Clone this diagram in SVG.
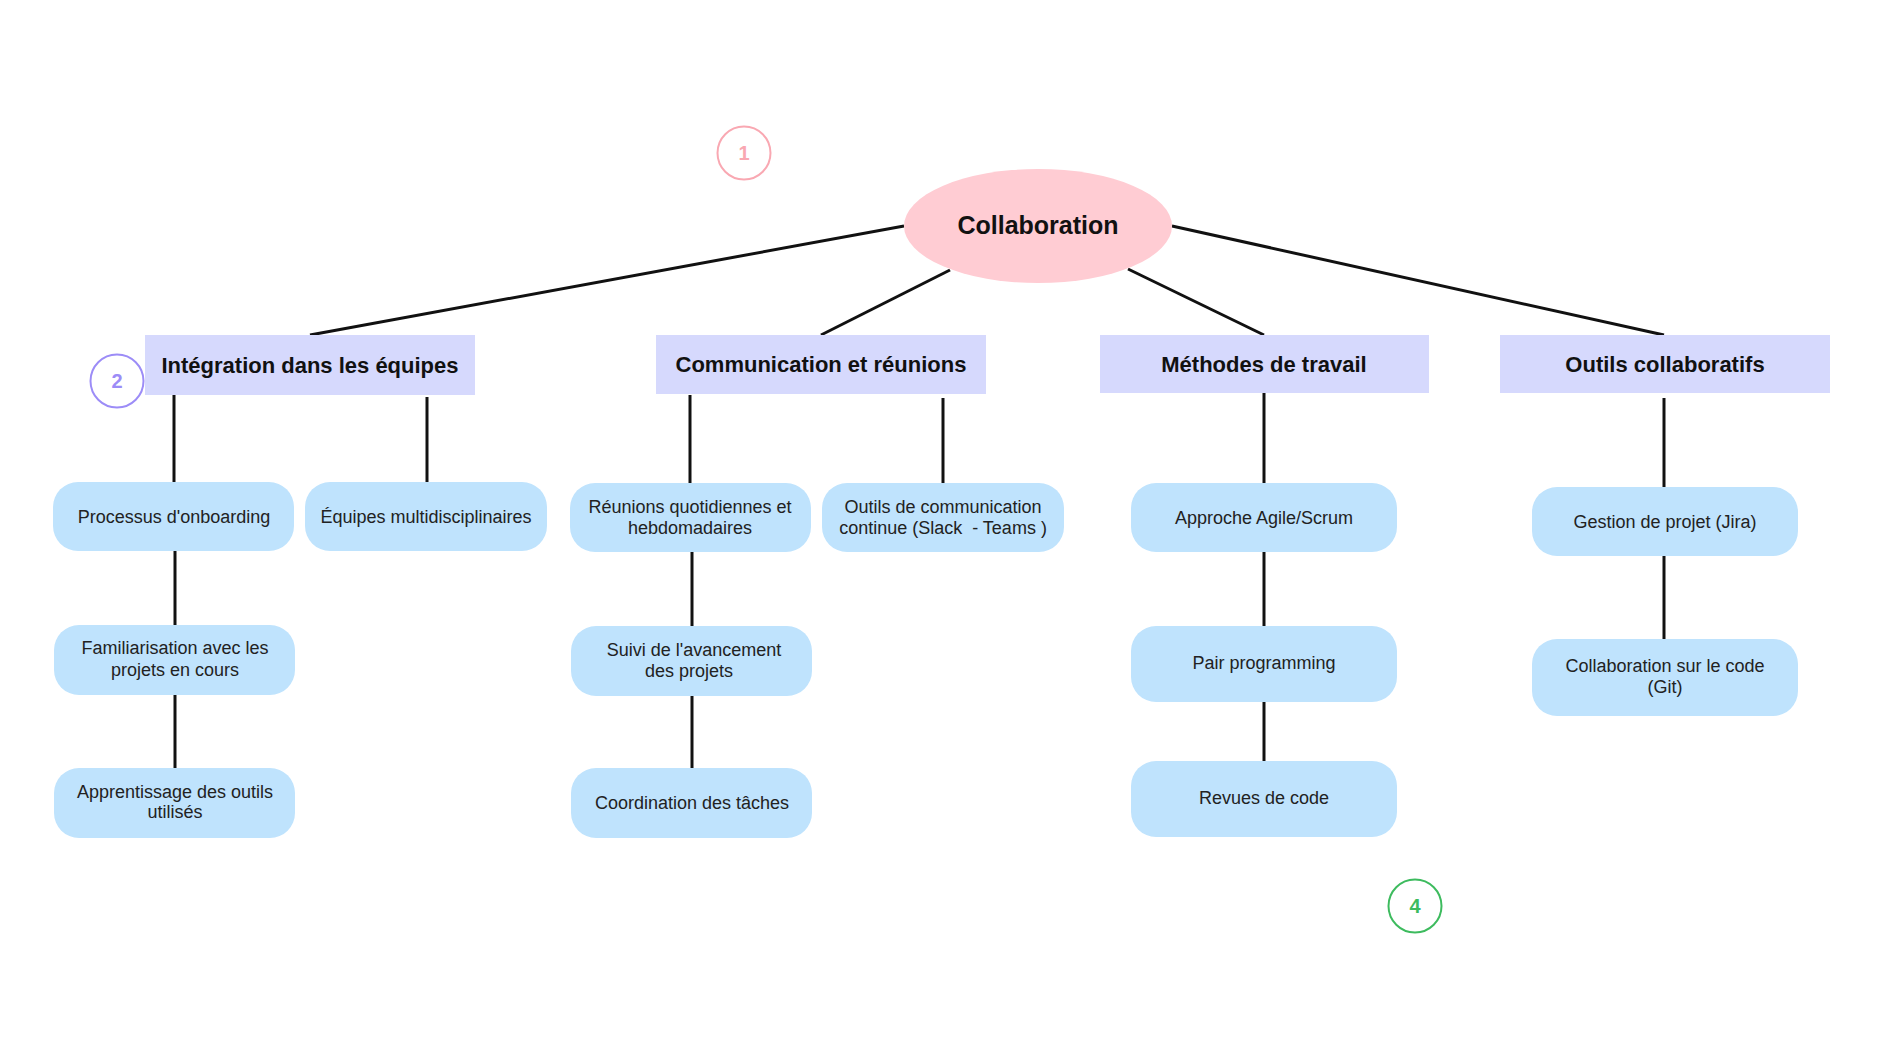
<svg xmlns="http://www.w3.org/2000/svg" width="1884" height="1060" viewBox="0 0 1884 1060">
  <style>
    .root { fill: #ffccd3; }
    .head { fill: #d6d9fd; }
    .leaf { fill: #bfe3fd; }
    .edge { stroke: #111; stroke-width: 3; stroke-linecap: butt; fill: none; }
    .t-root { font-family: "Liberation Sans", Arial, sans-serif; font-size: 25px; font-weight: bold; fill: #111; text-anchor: middle; }
    .t-head { font-family: "Liberation Sans", Arial, sans-serif; font-size: 22px; font-weight: bold; fill: #111; text-anchor: middle; }
    .t-leaf { font-family: "Liberation Sans", Arial, sans-serif; font-size: 18px; fill: #222; text-anchor: middle; }
    .badge { fill: none; stroke-width: 2; }
    .t-badge { font-family: "Liberation Sans", Arial, sans-serif; font-size: 20px; font-weight: bold; text-anchor: middle; }
  </style>
  <rect width="1884" height="1060" fill="#ffffff"/>

  <!-- connectors -->
  <g id="connectors">
    <line class="edge" x1="904" y1="226" x2="310" y2="335"/>
    <line class="edge" x1="950" y1="270" x2="821" y2="335"/>
    <line class="edge" x1="1128" y1="269" x2="1264" y2="335"/>
    <line class="edge" x1="1172" y1="226" x2="1664" y2="335"/>

    <line class="edge" x1="174" y1="395" x2="174" y2="482"/>
    <line class="edge" x1="427" y1="397" x2="427" y2="482"/>
    <line class="edge" x1="175" y1="551" x2="175" y2="625"/>
    <line class="edge" x1="175" y1="695" x2="175" y2="768"/>

    <line class="edge" x1="690" y1="395" x2="690" y2="483"/>
    <line class="edge" x1="943" y1="398" x2="943" y2="483"/>
    <line class="edge" x1="692" y1="552" x2="692" y2="626"/>
    <line class="edge" x1="692" y1="696" x2="692" y2="768"/>

    <line class="edge" x1="1264" y1="393" x2="1264" y2="483"/>
    <line class="edge" x1="1264" y1="552" x2="1264" y2="626"/>
    <line class="edge" x1="1264" y1="702" x2="1264" y2="761"/>

    <line class="edge" x1="1664" y1="398" x2="1664" y2="487"/>
    <line class="edge" x1="1664" y1="556" x2="1664" y2="639"/>
  </g>

  <!-- root -->
  <g id="collaboration">
    <ellipse class="root" cx="1038" cy="226" rx="134" ry="57"/>
    <text class="t-root" x="1038" y="234">Collaboration</text>
  </g>

  <!-- category headers -->
  <g id="integration">
    <rect class="head" x="145" y="335" width="330" height="60"/>
    <text class="t-head" x="310" y="373">Intégration dans les équipes</text>
  </g>
  <g id="communication">
    <rect class="head" x="656" y="335" width="330" height="59"/>
    <text class="t-head" x="821" y="372">Communication et réunions</text>
  </g>
  <g id="methodes">
    <rect class="head" x="1100" y="335" width="329" height="58"/>
    <text class="t-head" x="1264" y="372">Méthodes de travail</text>
  </g>
  <g id="outils">
    <rect class="head" x="1500" y="335" width="330" height="58"/>
    <text class="t-head" x="1665" y="372">Outils collaboratifs</text>
  </g>

  <!-- Intégration branch -->
  <g id="onboarding">
    <rect class="leaf" x="53" y="482" width="241" height="69" rx="25"/>
    <text class="t-leaf" x="174" y="523">Processus d'onboarding</text>
  </g>
  <g id="equipes">
    <rect class="leaf" x="305" y="482" width="242" height="69" rx="25"/>
    <text class="t-leaf" x="426" y="523">Équipes multidisciplinaires</text>
  </g>
  <g id="familiarisation">
    <rect class="leaf" x="54" y="625" width="241" height="70" rx="25"/>
    <text class="t-leaf" x="175" y="654">Familiarisation avec les</text>
    <text class="t-leaf" x="175" y="676">projets en cours</text>
  </g>
  <g id="apprentissage">
    <rect class="leaf" x="54" y="768" width="241" height="70" rx="25"/>
    <text class="t-leaf" x="175" y="798">Apprentissage des outils</text>
    <text class="t-leaf" x="175" y="818">utilisés</text>
  </g>

  <!-- Communication branch -->
  <g id="reunions">
    <rect class="leaf" x="570" y="483" width="241" height="69" rx="25"/>
    <text class="t-leaf" x="690" y="513">Réunions quotidiennes et</text>
    <text class="t-leaf" x="690" y="534">hebdomadaires</text>
  </g>
  <g id="outils-communication">
    <rect class="leaf" x="822" y="483" width="242" height="69" rx="25"/>
    <text class="t-leaf" x="943" y="513">Outils de communication</text>
    <text class="t-leaf" x="943" y="534" xml:space="preserve">continue (Slack  - Teams )</text>
  </g>
  <g id="suivi">
    <rect class="leaf" x="571" y="626" width="241" height="70" rx="25"/>
    <text class="t-leaf" x="694" y="656">Suivi de l'avancement</text>
    <text class="t-leaf" x="689" y="677">des projets</text>
  </g>
  <g id="coordination">
    <rect class="leaf" x="571" y="768" width="241" height="70" rx="25"/>
    <text class="t-leaf" x="692" y="809">Coordination des tâches</text>
  </g>

  <!-- Méthodes branch -->
  <g id="agile">
    <rect class="leaf" x="1131" y="483" width="266" height="69" rx="25"/>
    <text class="t-leaf" x="1264" y="524">Approche Agile/Scrum</text>
  </g>
  <g id="pair">
    <rect class="leaf" x="1131" y="626" width="266" height="76" rx="25"/>
    <text class="t-leaf" x="1264" y="669">Pair programming</text>
  </g>
  <g id="revues">
    <rect class="leaf" x="1131" y="761" width="266" height="76" rx="25"/>
    <text class="t-leaf" x="1264" y="804">Revues de code</text>
  </g>

  <!-- Outils branch -->
  <g id="jira">
    <rect class="leaf" x="1532" y="487" width="266" height="69" rx="25"/>
    <text class="t-leaf" x="1665" y="528">Gestion de projet (Jira)</text>
  </g>
  <g id="git">
    <rect class="leaf" x="1532" y="639" width="266" height="77" rx="25"/>
    <text class="t-leaf" x="1665" y="672">Collaboration sur le code</text>
    <text class="t-leaf" x="1665" y="693">(Git)</text>
  </g>

  <!-- numbered badges -->
  <g id="badge-1">
    <circle class="badge" cx="744" cy="153" r="26.5" stroke="#f9a8b2"/>
    <text class="t-badge" x="744" y="160" fill="#f9a8b2" font-weight="normal">1</text>
  </g>
  <g id="badge-2">
    <circle class="badge" cx="117" cy="381" r="26.5" stroke="#9c8cf7"/>
    <text class="t-badge" x="117" y="388" fill="#9c8cf7">2</text>
  </g>
  <g id="badge-4">
    <circle class="badge" cx="1415" cy="906" r="26.5" stroke="#3dbb5e"/>
    <text class="t-badge" x="1415" y="913" fill="#3dbb5e">4</text>
  </g>
</svg>
